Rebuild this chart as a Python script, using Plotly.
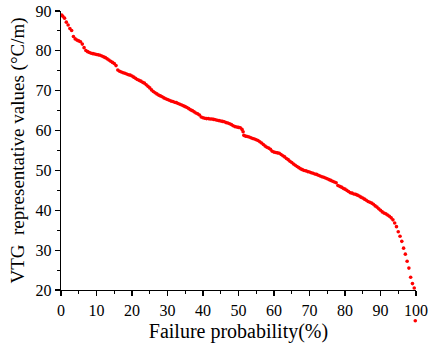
import plotly.graph_objects as go

failure_prob = [
    0.2, 0.5, 1.0, 1.5, 2.0, 2.5, 3.0, 3.5, 4.0, 4.5, 5.0, 5.5, 6.0, 6.5, 7.0, 7.5, 8.0, 8.5, 9.0, 9.5,
    10.0, 10.5, 11.0, 11.5, 12.0, 12.5, 13.0, 13.5, 14.0, 14.5, 15.0, 15.5, 16.0, 16.5, 17.0, 17.5, 18.0, 18.5, 19.0, 19.5,
    20.0, 20.5, 21.0, 21.5, 22.0, 22.5, 23.0, 23.5, 24.0, 24.5, 25.0, 25.5, 26.0, 26.5, 27.0, 27.5, 28.0, 28.5, 29.0, 29.5,
    30.0, 30.5, 31.0, 31.5, 32.0, 32.5, 33.0, 33.5, 34.0, 34.5, 35.0, 35.5, 36.0, 36.5, 37.0, 37.5, 38.0, 38.5, 39.0, 39.5,
    40.0, 40.5, 41.0, 41.5, 42.0, 42.5, 43.0, 43.5, 44.0, 44.5, 45.0, 45.5, 46.0, 46.5, 47.0, 47.5, 48.0, 48.5, 49.0, 49.5,
    50.0, 50.5, 51.0, 51.3, 51.5, 52.0, 52.5, 53.0, 53.5, 54.0, 54.5, 55.0, 55.5, 56.0, 56.5, 57.0, 57.5, 58.0, 58.5, 59.0, 59.5,
    60.0, 60.5, 61.0, 61.5, 62.0, 62.5, 63.0, 63.5, 64.0, 64.5, 65.0, 65.5, 66.0, 66.5, 67.0, 67.5, 68.0, 68.5, 69.0, 69.5,
    70.0, 70.5, 71.0, 71.5, 72.0, 72.5, 73.0, 73.5, 74.0, 74.5, 75.0, 75.5, 76.0, 76.5, 77.0, 77.5, 78.0, 78.5, 79.0, 79.5,
    80.0, 80.5, 81.0, 81.5, 82.0, 82.5, 83.0, 83.5, 84.0, 84.5, 85.0, 85.5, 86.0, 86.5, 87.0, 87.5, 88.0, 88.5, 89.0, 89.5,
    90.0, 90.5, 91.0, 91.5, 92.0, 92.5, 93.0, 93.5, 94.0, 94.5, 95.0, 95.5, 96.0, 96.5, 97.0, 97.5, 98.0, 98.5, 99.0, 99.5,
]

vtg_values = [
    89.0, 88.7, 88.2, 87.2, 86.5, 85.6, 85.1, 83.6, 83.0, 82.7, 82.5, 82.3, 81.7, 80.8, 80.1, 79.8, 79.6, 79.4, 79.3, 79.2,
    79.1, 79.0, 78.9, 78.7, 78.5, 78.3, 78.0, 77.7, 77.4, 77.1, 76.8, 76.3, 75.2, 74.9, 74.7, 74.5, 74.4, 74.2, 74.0, 73.9,
    73.7, 73.4, 73.1, 72.8, 72.6, 72.4, 72.1, 71.9, 71.5, 71.1, 70.7, 70.2, 69.8, 69.5, 69.2, 68.9, 68.7, 68.5, 68.2, 68.0,
    67.8, 67.6, 67.4, 67.3, 67.1, 67.0, 66.8, 66.6, 66.4, 66.2, 66.0, 65.8, 65.5, 65.2, 65.0, 64.7, 64.4, 64.2, 63.9, 63.4,
    63.2, 63.1, 63.0, 63.0, 62.9, 62.9, 62.8, 62.7, 62.6, 62.5, 62.4, 62.3, 62.2, 62.0, 61.9, 61.7, 61.5, 61.2, 61.0, 60.9,
    60.8, 60.7, 60.3, 59.7, 58.8, 58.6, 58.5, 58.4, 58.2, 58.0, 57.9, 57.7, 57.5, 57.2, 56.9, 56.5, 56.1, 55.8, 55.6, 55.3, 54.8,
    54.6, 54.5, 54.4, 54.3, 54.0, 53.7, 53.4, 53.0, 52.7, 52.3, 52.0, 51.6, 51.3, 51.0, 50.7, 50.4, 50.2, 50.0, 49.9, 49.7,
    49.6, 49.4, 49.3, 49.1, 49.0, 48.8, 48.6, 48.4, 48.3, 48.1, 47.9, 47.7, 47.5, 47.3, 47.1, 46.9, 46.2, 46.0, 45.8, 45.5,
    45.3, 45.0, 44.7, 44.4, 44.3, 44.1, 44.0, 43.8, 43.6, 43.3, 43.1, 42.8, 42.5, 42.2, 42.0, 41.8, 41.5, 41.1, 40.8, 40.4,
    40.0, 39.6, 39.3, 39.1, 38.8, 38.5, 38.1, 37.6, 36.8, 35.9, 34.6, 33.5, 32.2, 30.5, 29.0, 27.2, 25.5, 23.2, 21.6, 20.5,
]

# the single point that falls below the axis minimum
outlier_prob = [99.8]
outlier_value = [12.3]

x_ticks = [0, 10, 20, 30, 40, 50, 60, 70, 80, 90, 100]
y_ticks = [20, 30, 40, 50, 60, 70, 80, 90]
x_range = [0, 100]
y_range = [20, 90]

font_family = "Liberation Serif, Times New Roman, serif"

# Layout geometry (pixels)
W, H = 429, 353
M_L, M_R, M_T, M_B = 61, 13, 11, 20
AXIS_BOTTOM_PX = 290  # pixel row of the x axis line
plot_h = H - M_T - M_B
d0 = (H - M_B - AXIS_BOTTOM_PX) / plot_h
px_per_unit = (AXIS_BOTTOM_PX - M_T) / (y_range[1] - y_range[0])
y2_low = y_range[0] - (H - M_B - AXIS_BOTTOM_PX) / px_per_unit

marker_style = dict(color="#ff0000", size=3.6, line=dict(width=0))

fig = go.Figure()
fig.add_trace(go.Scatter(
    x=failure_prob, y=vtg_values, mode="markers", marker=marker_style,
    cliponaxis=False, showlegend=False, xaxis="x", yaxis="y",
))
# helper full-height axis sharing the same value-to-pixel mapping, so the
# point below 20 is still drawn beneath the x axis as in the reference
fig.add_trace(go.Scatter(
    x=outlier_prob, y=outlier_value, mode="markers", marker=marker_style,
    cliponaxis=False, showlegend=False, xaxis="x2", yaxis="y2",
))

axis_common = dict(
    showline=True, linecolor="black", linewidth=1.3, mirror=False,
    ticks="outside", ticklen=5, tickwidth=1.2, tickcolor="black",
    showgrid=False, zeroline=False, automargin=False,
    tickfont=dict(family=font_family, size=16, color="black"),
    minor=dict(ticks="outside", ticklen=3, tickwidth=1, tickcolor="black", dtick=5, showgrid=False),
)

fig.update_layout(
    width=W, height=H,
    margin=dict(l=M_L, r=M_R, t=M_T, b=M_B),
    paper_bgcolor="white", plot_bgcolor="rgba(0,0,0,0)",
    font=dict(family=font_family, color="black"),
    xaxis=dict(
        range=x_range, tickvals=x_ticks, ticktext=[str(v) for v in x_ticks],
        anchor="y",
        title=dict(text="Failure probability(%)", font=dict(family=font_family, size=20), standoff=6),
        **axis_common,
    ),
    yaxis=dict(
        range=y_range, tickvals=y_ticks, ticktext=[str(v) for v in y_ticks],
        domain=[d0, 1], anchor="x",
        title=dict(text="VTG\u00a0 representative values (°C/m)", font=dict(family=font_family, size=19), standoff=6),
        **axis_common,
    ),
    xaxis2=dict(range=x_range, anchor="y2", overlaying="x", visible=False),
    yaxis2=dict(range=[y2_low, y_range[1]], domain=[0, 1], anchor="x2", visible=False),
)

fig.write_html(
    "out.html",
    config={"displayModeBar": False, "staticPlot": True},
    post_script="document.body.style.margin='0';",
)
